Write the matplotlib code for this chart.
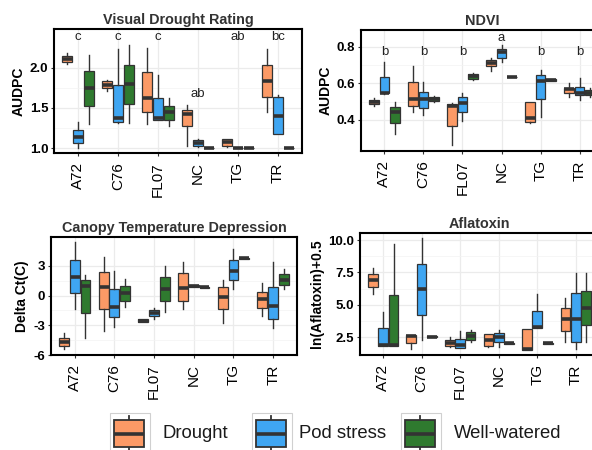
import numpy as np
import matplotlib.pyplot as plt
from matplotlib.patches import Rectangle

plt.rcParams['font.family'] = ['Liberation Sans', 'DejaVu Sans']

genotypes = ['A72', 'C76', 'FL07', 'NC', 'TG', 'TR']
treatments = ['Drought', 'Pod stress', 'Well-watered']
colors = ['#FC9A66', '#3FA6F2', '#2F7A2F']

# each genotype: (lower whisker, q1, median, q3, upper whisker)
vdr_drought = [(2.04, 2.07, 2.11, 2.15, 2.18), (1.71, 1.75, 1.78, 1.83, 1.85),
               (1.30, 1.45, 1.62, 1.94, 2.25), (1.025, 1.28, 1.42, 1.48, 1.53),
               (1.02, 1.03, 1.075, 1.12, 1.12), (1.45, 1.64, 1.84, 2.03, 2.23)]
vdr_pod = [(1.0, 1.06, 1.14, 1.23, 1.325), (1.31, 1.325, 1.37, 1.79, 2.23),
           (1.345, 1.345, 1.37, 1.625, 1.91), (1.01, 1.03, 1.07, 1.10, 1.12),
           (1.0, 1.0, 1.0, 1.0, 1.0), (1.18, 1.18, 1.40, 1.63, 1.66)]
vdr_well = [(1.30, 1.52, 1.75, 1.96, 2.16), (1.31, 1.55, 1.80, 2.03, 2.28),
            (1.28, 1.355, 1.45, 1.52, 1.62), (1.0, 1.0, 1.0, 1.0, 1.0),
            (1.0, 1.0, 1.0, 1.0, 1.0), (1.0, 1.0, 1.0, 1.0, 1.0)]
vdr_letters = ['c', 'c', 'c', 'ab', 'ab', 'bc']
vdr_letter_y = [2.375, 2.375, 2.375, 1.67, 2.375, 2.375]

ndvi_drought = [(0.473, 0.485, 0.496, 0.509, 0.518), (0.444, 0.476, 0.513, 0.604, 0.691),
                (0.264, 0.367, 0.476, 0.485, 0.491), (0.664, 0.691, 0.709, 0.724, 0.736),
                (0.382, 0.387, 0.409, 0.50, 0.50), (0.524, 0.545, 0.567, 0.576, 0.60)]
ndvi_pod = [(0.54, 0.545, 0.549, 0.633, 0.713), (0.425, 0.464, 0.513, 0.551, 0.604),
            (0.396, 0.442, 0.491, 0.522, 0.549), (0.715, 0.738, 0.769, 0.785, 0.809),
            (0.415, 0.513, 0.613, 0.645, 0.673), (0.509, 0.533, 0.549, 0.578, 0.631)]
ndvi_well = [(0.324, 0.382, 0.442, 0.469, 0.50), (0.500, 0.504, 0.515, 0.527, 0.531),
             (0.615, 0.622, 0.638, 0.651, 0.658), (0.632, 0.632, 0.633, 0.634, 0.634),
             (0.612, 0.614, 0.618, 0.621, 0.623), (0.527, 0.533, 0.545, 0.564, 0.573)]
ndvi_letters = ['b', 'b', 'b', 'a', 'b', 'b']
ndvi_letter_y = [0.769, 0.769, 0.769, 0.845, 0.769, 0.769]

ctd_drought = [(-5.43, -5.06, -4.65, -4.25, -3.81), (-3.57, -1.38, 0.84, 2.43, 3.94),
               (-2.66, -2.66, -2.53, -2.39, -2.39), (-1.31, -0.51, 0.74, 2.26, 3.44),
               (-2.80, -1.35, -0.17, 0.84, 1.55), (-2.02, -1.21, -0.34, 0.40, 1.25)]
ctd_pod = [(-1.38, 0.24, 1.92, 3.61, 5.46), (-3.13, -2.19, -1.18, 0.64, 2.49),
           (-2.33, -2.02, -1.79, -1.45, -1.28), (0.90, 0.90, 0.98, 1.05, 1.05),
           (0.64, 1.58, 2.49, 3.61, 4.72), (-3.30, -2.33, -1.04, 0.91, 3.44)]
ctd_well = [(-4.31, -1.79, 0.98, 1.58, 2.09), (-1.11, -0.51, 0.24, 0.98, 1.69),
            (-1.62, -0.51, 0.67, 1.85, 3.03), (0.80, 0.80, 0.84, 0.88, 0.88),
            (3.72, 3.72, 3.77, 3.82, 3.82), (0.64, 1.08, 1.58, 2.19, 2.66)]

afla_drought = [(5.84, 6.35, 6.92, 7.38, 7.87), (1.57, 2.04, 2.63, 2.68, 2.68),
                (1.78, 1.86, 2.09, 2.29, 2.55), (1.78, 1.86, 2.29, 2.73, 2.73),
                (1.52, 1.52, 1.57, 3.12, 3.12), (2.17, 3.01, 3.89, 4.73, 5.56)]
afla_pod = [(1.86, 1.86, 1.91, 3.19, 4.48), (2.29, 4.22, 6.20, 8.15, 10.13),
            (1.65, 1.65, 1.91, 2.35, 2.99), (1.78, 2.17, 2.50, 2.81, 3.06),
            (3.19, 3.19, 3.27, 4.53, 5.81), (1.57, 2.11, 3.89, 5.94, 7.48)]
afla_well = [(1.86, 1.86, 1.91, 5.76, 9.67), (2.53, 2.53, 2.55, 2.57, 2.57),
             (2.17, 2.29, 2.63, 2.94, 3.06), (2.02, 2.02, 2.04, 2.06, 2.06),
             (2.02, 2.02, 2.04, 2.06, 2.06), (2.17, 3.45, 4.79, 6.10, 7.43)]

fig = plt.figure(figsize=(5.92, 4.5), dpi=100)
edge = '#333333'


def draw_panel(rect, series, title, ylabel, ylim, yticks, fmt, letters=None, letter_y=None):
    ax = fig.add_axes(rect)
    x = np.arange(len(genotypes))
    for k, (data, col) in enumerate(zip(series, colors)):
        stats = [dict(whislo=d[0], q1=d[1], med=d[2], q3=d[3], whishi=d[4]) for d in data]
        ax.bxp(stats, positions=x + (k - 1) * 0.27, widths=0.25, patch_artist=True,
               showfliers=False, showcaps=False, manage_ticks=False,
               boxprops=dict(facecolor=col, edgecolor=edge, linewidth=0.9),
               whiskerprops=dict(color=edge, linewidth=1.0),
               medianprops=dict(color=edge, linewidth=2.6, solid_capstyle='butt'),
               zorder=3)
    if letters:
        for xi, (lab, ly) in enumerate(zip(letters, letter_y)):
            ax.text(xi, ly, lab, ha='center', va='center', fontsize=9.5, color='#222222')
    ax.set_xlim(-0.6, 5.6)
    ax.set_ylim(*ylim)
    ax.set_xticks(x)
    ax.set_xticklabels(genotypes, rotation=90, fontsize=11)
    ax.set_yticks(yticks)
    ax.set_yticklabels([fmt % t for t in yticks], fontsize=9.5, fontweight='bold')
    ax.set_yticks([(a + b) / 2 for a, b in zip(yticks[:-1], yticks[1:])], minor=True)
    ax.tick_params(axis='y', which='minor', length=0)
    ax.tick_params(axis='both', which='major', direction='out', length=2.2, width=0.8,
                   color=edge, labelcolor='black')
    ax.tick_params(axis='x', pad=4.5)
    ax.tick_params(axis='y', pad=2)
    ax.grid(True, which='major', color='#EBEBEB', linewidth=0.9, zorder=0)
    ax.grid(True, which='minor', axis='y', color='#F3F3F3', linewidth=0.5, zorder=0)
    ax.set_axisbelow(True)
    for s in ax.spines.values():
        s.set_linewidth(1.5)
        s.set_color('black')
    ax.set_title(title, fontsize=10.4, fontweight='bold', color='#333333', pad=3.5)
    ax.set_ylabel(ylabel, fontsize=10, fontweight='bold', labelpad=3)
    return ax


draw_panel([0.0912, 0.66, 0.4189, 0.2756], [vdr_drought, vdr_pod, vdr_well],
           'Visual Drought Rating', 'AUDPC', (0.94, 2.48), [1.0, 1.5, 2.0], '%.1f',
           vdr_letters, vdr_letter_y)
draw_panel([0.6098, 0.6644, 0.4088, 0.2689], [ndvi_drought, ndvi_pod, ndvi_well],
           'NDVI', 'AUDPC', (0.23, 0.89), [0.4, 0.6, 0.8], '%.1f',
           ndvi_letters, ndvi_letter_y)
draw_panel([0.0861, 0.2111, 0.4155, 0.2622], [ctd_drought, ctd_pod, ctd_well],
           'Canopy Temperature Depression', 'Delta Ct(C)', (-6, 5.93), [-6, -3, 0, 3], '%d')
draw_panel([0.6081, 0.2111, 0.4037, 0.2711], [afla_drought, afla_pod, afla_well],
           'Aflatoxin', 'ln(Aflatoxin)+0.5', (1.14, 10.54), [2.5, 5.0, 7.5, 10.0], '%.1f')

# legend drawn in pixel space at the bottom
lg = fig.add_axes([0, 0, 1, 1])
lg.set_xlim(0, 592)
lg.set_ylim(450, 0)
lg.axis('off')
key_x = [110, 252, 401]
text_x = [162, 299, 454]
for kx, tx, col, name in zip(key_x, text_x, colors, treatments):
    lg.add_patch(Rectangle((kx, 413), 40, 40, facecolor='white', edgecolor='#D0D0D0',
                           linewidth=0.8, zorder=1))
    lg.plot([kx + 19, kx + 19], [416, 452], color=edge, linewidth=1.3, zorder=2)
    lg.add_patch(Rectangle((kx + 4, 420), 30, 27, facecolor=col, edgecolor=edge,
                           linewidth=1.3, zorder=3))
    lg.plot([kx + 4, kx + 34], [433.5, 433.5], color=edge, linewidth=2.6,
            solid_capstyle='butt', zorder=4)
    lg.text(tx, 433, name, fontsize=13.3, va='center', ha='left', color='#1a1a1a')

fig.savefig('out.png', dpi=100)
